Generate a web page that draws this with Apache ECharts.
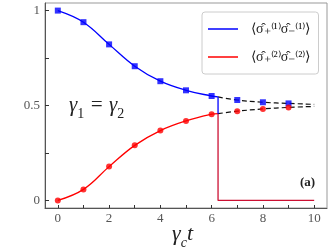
<!DOCTYPE html>
<html><head><meta charset="utf-8">
<script src="https://cdn.jsdelivr.net/npm/echarts@6/dist/echarts.min.js"></script>
<style>html,body{margin:0;padding:0;background:#fff}#c{width:332px;height:249px}</style>
</head><body><div id="c"></div>
<script>
// sample times (markers)
const tMarkers = [0, 1, 2, 3, 4, 5, 6, 7, 8, 9];
const blueMarkers = [1.0, 0.939, 0.822, 0.707, 0.628, 0.580, 0.550, 0.529, 0.517, 0.511];
const redMarkers = [0.0, 0.058, 0.178, 0.290, 0.368, 0.419, 0.454, 0.470, 0.482, 0.490];
// solid curve segment (t <= tc)
const tSolid = [0, 1, 2, 3, 4, 5, 6, 6.25];
const blueSolid = [1.0, 0.939, 0.822, 0.707, 0.628, 0.580, 0.550, 0.545];
const redSolid = [0.0, 0.058, 0.178, 0.290, 0.368, 0.419, 0.454, 0.457];
// dashed continuation
const tDash = [6.25, 7, 8, 9, 10];
const blueDash = [0.545, 0.529, 0.517, 0.511, 0.506];
const redDash = [0.457, 0.470, 0.482, 0.490, 0.495];
// step line
const tStep = [6.25, 6.25, 10];
const yStep = [0.457, 0, 0];
// vertical jump
const tJump = [6.25, 6.25];
const yJump = [0.545, 0.457];
// ticks
const xTicks = [0, 1, 2, 3, 4, 5, 6, 7, 8, 9, 10];
const xLabels = [0, 2, 4, 6, 8, 10];
const yTicks = [0, 0.25, 0.5, 0.75, 1];
const yLabels = [0, 0.5, 1];
const name1 = '⟨σ̂₊⁽¹⁾σ̂₋⁽¹⁾⟩';
const name2 = '⟨σ̂₊⁽²⁾σ̂₋⁽²⁾⟩';

const zip = (a, b) => a.map((v, i) => [v, b[i]]);
const serif = 'Liberation Serif';

const chart = echarts.init(document.getElementById('c'), null, {renderer: 'canvas'});
chart.setOption({
  animation: false,
  grid: {left: 45, right: 5, top: 3, bottom: 41, show: true, borderColor: '#999', borderWidth: 1},
  xAxis: {
    type: 'value', min: -0.5, max: 10.5,
    axisLine: {show: true, onZero: false, lineStyle: {color: '#555', width: 1}},
    axisTick: {show: true, inside: true, length: 3, customValues: xTicks, lineStyle: {color: '#333'}},
    axisLabel: {customValues: xLabels, color: '#555', fontFamily: serif, fontSize: 13, margin: 4},
    splitLine: {show: false}
  },
  yAxis: {
    type: 'value', min: -0.04, max: 1.04,
    axisLine: {show: true, onZero: false, lineStyle: {color: '#555', width: 1}},
    axisTick: {show: true, inside: true, length: 4, customValues: yTicks, lineStyle: {color: '#333'}},
    axisLabel: {customValues: yLabels, color: '#555', fontFamily: serif, fontSize: 13, margin: 5},
    splitLine: {show: false}
  },
  legend: {
    data: [name1, name2],
    orient: 'vertical', left: 202, top: 12, width: 108,
    padding: [10, 8, 10, 6], itemGap: 14,
    borderColor: '#ccc', borderWidth: 1, borderRadius: 3, backgroundColor: '#fff',
    icon: 'rect', itemWidth: 30, itemHeight: 1.5,
    textStyle: {fontFamily: serif, fontSize: 14, color: '#222', padding: [0, 0, 0, 8]}
  },
  series: [
    {name: name1, type: 'line', data: zip(tSolid, blueSolid), smooth: 0.4, showSymbol: false,
     lineStyle: {color: '#0000ff', width: 1.3}, itemStyle: {color: '#0000ff'}, z: 3},
    {name: name2, type: 'line', data: zip(tSolid, redSolid), smooth: 0.4, showSymbol: false,
     lineStyle: {color: '#ff0000', width: 1.3}, itemStyle: {color: '#ff0000'}, z: 3},
    {type: 'line', data: zip(tDash, blueDash), smooth: 0.4, showSymbol: false,
     lineStyle: {color: '#111', width: 1.2, type: [5, 3]}, z: 2},
    {type: 'line', data: zip(tDash, redDash), smooth: 0.4, showSymbol: false,
     lineStyle: {color: '#111', width: 1.2, type: [5, 3]}, z: 2},
    {type: 'line', data: zip(tStep, yStep), showSymbol: false,
     lineStyle: {color: '#cc1033', width: 1.3}, z: 2},
    {type: 'line', data: zip(tJump, yJump), showSymbol: false,
     lineStyle: {color: '#0000ff', width: 1.3}, z: 3},
    {type: 'scatter', data: zip(tMarkers, blueMarkers), symbol: 'rect', symbolSize: 6,
     itemStyle: {color: '#0000ff'}, z: 5},
    {type: 'scatter', data: zip(tMarkers, redMarkers), symbol: 'circle', symbolSize: 6,
     itemStyle: {color: '#ff0000'}, z: 5}
  ],
  graphic: [
    {type: 'text', left: 69, top: 95, style: {
      text: '{g|γ}{s|1}{g| = }{g|γ}{s|2}',
      rich: {
        g: {fontFamily: serif, fontStyle: 'italic', fontSize: 21, fill: '#222', verticalAlign: 'bottom'},
        s: {fontFamily: serif, fontSize: 14, fill: '#222', verticalAlign: 'bottom', padding: [0, 0, -5, 0]}
      }}},
    {type: 'text', left: 172, top: 223, style: {
      text: '{g|γ}{s|c}{g|t}',
      rich: {
        g: {fontFamily: serif, fontStyle: 'italic', fontSize: 22, fill: '#222', verticalAlign: 'bottom'},
        s: {fontFamily: serif, fontStyle: 'italic', fontSize: 14, fill: '#222', verticalAlign: 'bottom', padding: [0, 0, -5, 0]}
      }}},
    {type: 'text', left: 300, top: 176, style: {
      text: '(a)', fontFamily: serif, fontWeight: 'bold', fontSize: 13, fill: '#222'}}
  ]
});
</script></body></html>
